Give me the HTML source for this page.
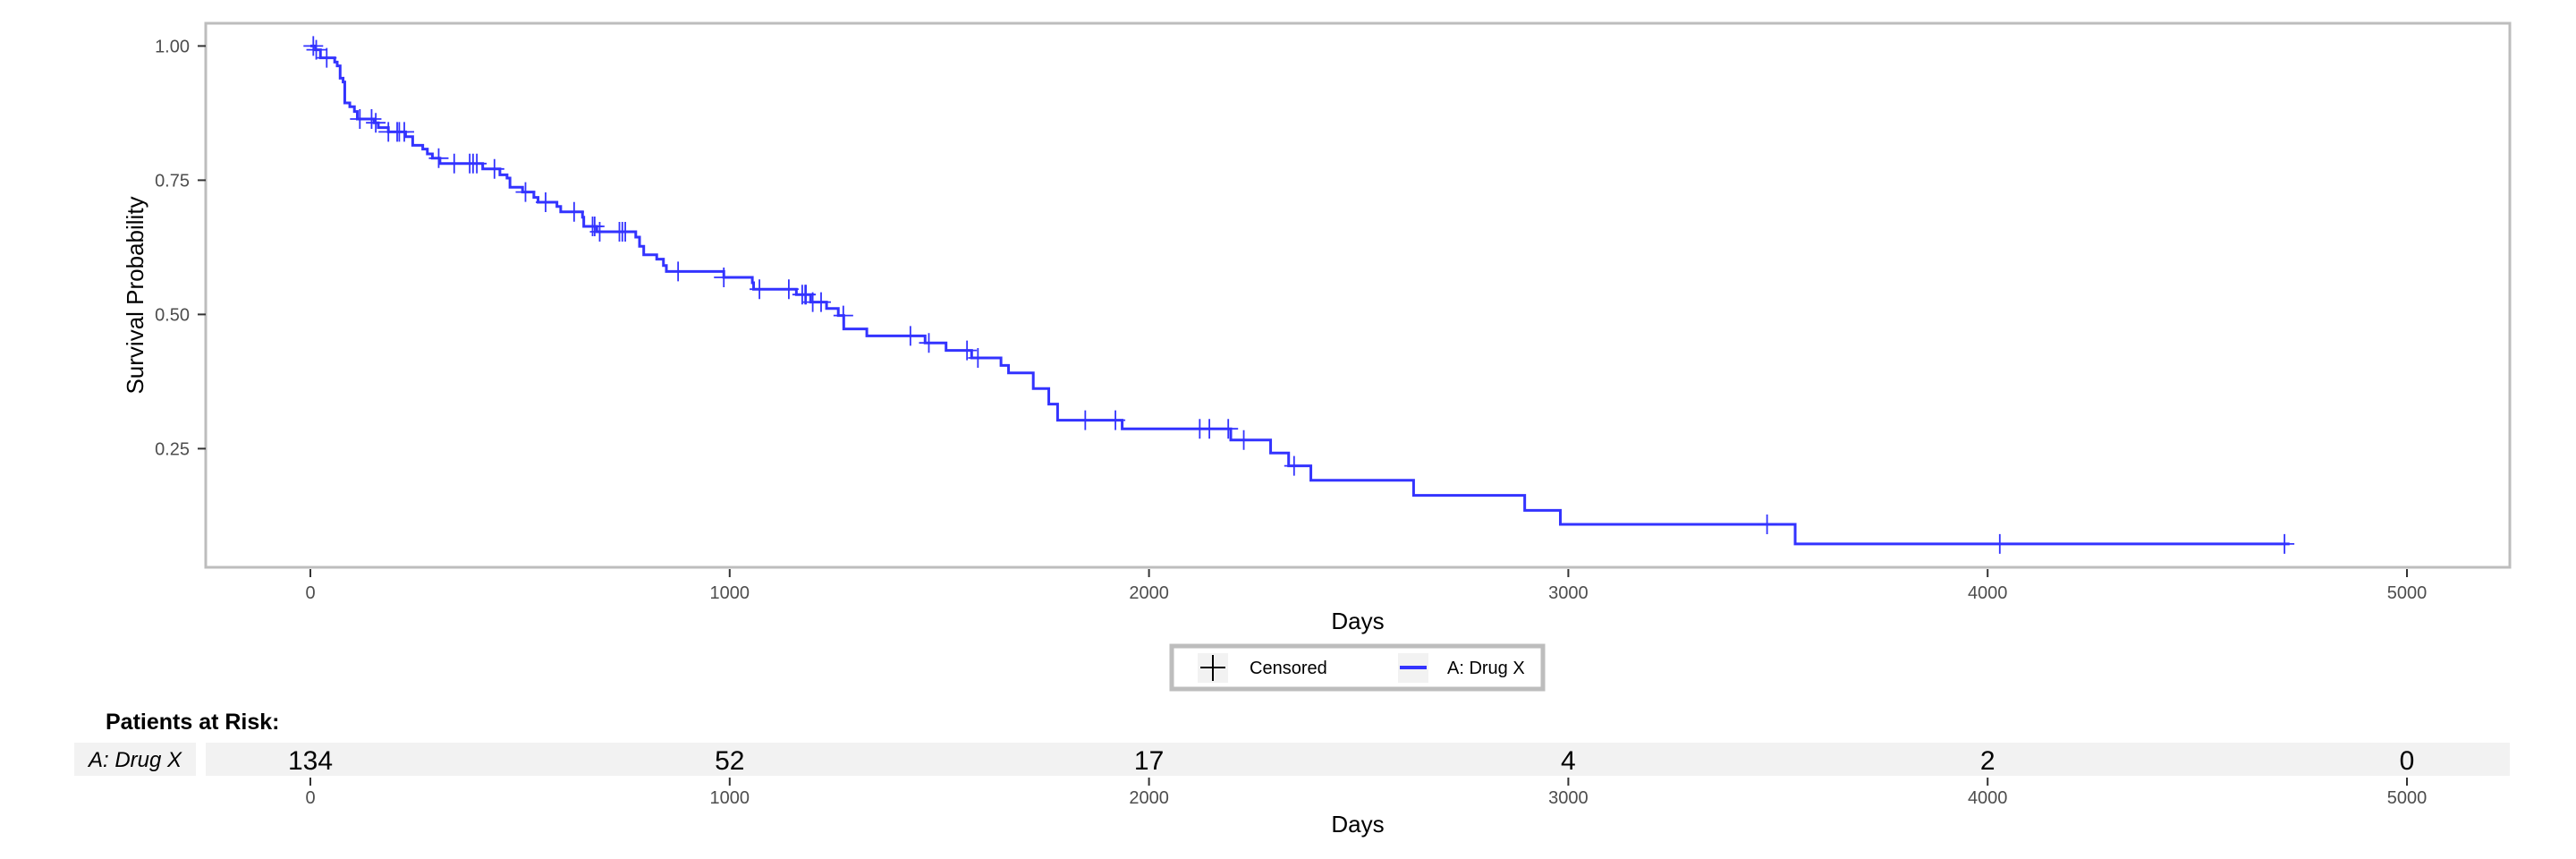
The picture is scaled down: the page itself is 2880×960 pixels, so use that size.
<!DOCTYPE html>
<html><head><meta charset="utf-8"><style>
html,body{margin:0;padding:0;background:#fff}
svg{display:block;font-family:"Liberation Sans",sans-serif}
</style></head><body>
<svg id="chart" width="2880" height="960" viewBox="0 0 2880 960">
<rect x="230" y="26" width="2576" height="608" fill="#fff" stroke="#bdbdbd" stroke-width="3"/>
<g id="yaxis"></g>
<g id="xaxis"></g>
<g id="series"></g>
<text x="160" y="330" transform="rotate(-90 160 330)" text-anchor="middle" font-size="26" fill="#000">Survival Probability</text>
<text x="1518" y="703" text-anchor="middle" font-size="26" fill="#000">Days</text>
<g>
<rect x="1310" y="722" width="415" height="48" fill="#fff" stroke="#bdbdbd" stroke-width="5"/>
<rect x="1339" y="730" width="34" height="33" fill="#f2f2f2"/>
<line x1="1342" y1="746" x2="1370" y2="746" stroke="#000" stroke-width="2"/>
<line x1="1356" y1="732" x2="1356" y2="761" stroke="#000" stroke-width="2"/>
<text x="1397" y="753" font-size="20" fill="#000">Censored</text>
<rect x="1563" y="730" width="34" height="33" fill="#f2f2f2"/>
<line x1="1565" y1="746" x2="1595" y2="746" stroke="#3333ff" stroke-width="4"/>
<text x="1618" y="753" font-size="20" fill="#000">A: Drug X</text>
</g>
<text x="118" y="815" font-size="25" font-weight="bold" fill="#000">Patients at Risk:</text>
<rect x="83" y="830" width="136" height="37" fill="#f2f2f2"/>
<text x="151" y="857" text-anchor="middle" font-size="24" font-style="italic" fill="#000">A: Drug X</text>
<rect x="230" y="830" width="2576" height="37" fill="#f2f2f2"/>
<g id="risk"></g>
<text x="1518" y="930" text-anchor="middle" font-size="26" fill="#000">Days</text>
</svg>
<script>
const xTicks = [0, 1000, 2000, 3000, 4000, 5000];
const yTicks = [0.25, 0.50, 0.75, 1.00];
const yTickLabels = ["0.25", "0.50", "0.75", "1.00"];
const eventTimes = [12,24,58,64,71,78,82,94,105,112,152,162,186,227,244,268,279,291,309,411,452,469,476,506,533,543,588,597,649,652,683,776,785,795,826,842,849,986,1054,1057,1159,1193,1231,1259,1272,1327,1466,1516,1577,1647,1665,1724,1761,1782,1936,2195,2290,2333,2386,2631,2896,2981,3541];
const survValues = [0.993,0.978,0.970,0.963,0.940,0.933,0.894,0.887,0.878,0.864,0.857,0.848,0.840,0.831,0.815,0.808,0.799,0.791,0.781,0.771,0.760,0.754,0.737,0.728,0.718,0.709,0.701,0.691,0.681,0.664,0.654,0.644,0.627,0.611,0.603,0.591,0.580,0.569,0.559,0.547,0.537,0.523,0.511,0.498,0.473,0.460,0.447,0.433,0.419,0.405,0.391,0.362,0.333,0.303,0.287,0.266,0.242,0.218,0.191,0.163,0.135,0.109,0.0725];
const censorTimes = [7,14,39,118,146,156,186,207,212,224,306,343,380,388,397,439,513,561,629,673,678,690,737,744,751,877,986,1071,1141,1173,1180,1182,1198,1218,1271,1431,1475,1566,1592,1848,1920,2121,2144,2189,2226,2346,3474,4029,4708];
const endTime = 4720;
const riskTimes = [0, 1000, 2000, 3000, 4000, 5000];
const riskCounts = [134, 52, 17, 4, 2, 0];

const NS = "http://www.w3.org/2000/svg";
const X = d => 347 + d * 0.4688;
const Y = s => 51.4 + (1 - s) * 600;
function mk(tag, attrs, parent, txt) {
  const e = document.createElementNS(NS, tag);
  for (const k in attrs) e.setAttribute(k, attrs[k]);
  if (txt !== undefined) e.textContent = txt;
  parent.appendChild(e);
  return e;
}
function survAt(t) {
  let s = 1;
  for (let i = 0; i < eventTimes.length; i++) if (eventTimes[i] <= t) s = survValues[i];
  return s;
}
const ya = document.getElementById('yaxis');
yTicks.forEach((v, i) => {
  const l = mk('line', {x1: 221, x2: 230, y1: Y(v), y2: Y(v), stroke: '#333', 'stroke-width': 2}, ya);
  
  
  const t = mk('text', {x: 212, y: Y(v) + 7, 'text-anchor': 'end', 'font-size': 20, fill: '#4d4d4d'}, ya, yTickLabels[i]);
  
  
});
const xa = document.getElementById('xaxis');
xTicks.forEach(v => {
  const l = mk('line', {x1: X(v), x2: X(v), y1: 636, y2: 645, stroke: '#333', 'stroke-width': 2}, xa);
  
  
  const t = mk('text', {x: X(v), y: 669, 'text-anchor': 'middle', 'font-size': 20, fill: '#4d4d4d'}, xa, String(v));
  
  
});
const sg = document.getElementById('series');
let d = 'M' + X(0) + ',' + Y(1);
let cur = 1;
eventTimes.forEach((t, i) => {
  d += ' H' + X(t) + ' V' + Y(survValues[i]);
  cur = survValues[i];
});
d += ' H' + X(endTime);
const p = mk('path', {d: d, fill: 'none', stroke: '#3333ff', 'stroke-width': 3}, sg);


censorTimes.forEach(t => {
  const cx = X(t), cy = Y(survAt(t));
  const g = mk('path', {d: `M${cx-11},${cy} H${cx+11} M${cx},${cy-11} V${cy+11}`, stroke: '#3333ff', 'stroke-width': 1.8, fill: 'none'}, sg);
  
  
});
const rg = document.getElementById('risk');
riskTimes.forEach((v, i) => {
  const n = mk('text', {x: X(v), y: 860, 'text-anchor': 'middle', 'font-size': 30, fill: '#000'}, rg, String(riskCounts[i]));
  
  
  const l = mk('line', {x1: X(v), x2: X(v), y1: 869, y2: 878, stroke: '#333', 'stroke-width': 2}, rg);
  
  
  const t = mk('text', {x: X(v), y: 898, 'text-anchor': 'middle', 'font-size': 20, fill: '#4d4d4d'}, rg, String(v));
  
  
});
</script>
</body></html>
